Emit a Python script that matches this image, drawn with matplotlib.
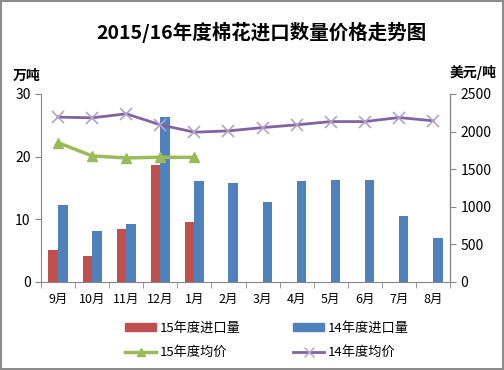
import numpy as np
import matplotlib
matplotlib.use("Agg")
import matplotlib.pyplot as plt
from matplotlib.patches import Patch
from matplotlib.lines import Line2D

plt.rcParams['font.family'] = ['Noto Sans CJK SC', 'DejaVu Sans']

months = ['9月', '10月', '11月', '12月', '1月', '2月', '3月', '4月', '5月', '6月', '7月', '8月']
imp_15 = [5.1, 4.2, 8.4, 18.7, 9.5]
imp_14 = [12.3, 8.2, 9.25, 26.4, 16.05, 15.85, 12.8, 16.05, 16.3, 16.2, 10.6, 7.0]
price_15 = [1853, 1676, 1649, 1659, 1656]
price_14 = [2192, 2183, 2236, 2090, 1992, 2009, 2053, 2090, 2133, 2133, 2187, 2143]

red = '#C0504D'
blue = '#4F81BD'
green = '#9BBB59'
purple = '#8064A2'

fig = plt.figure(figsize=(5.04, 3.70), dpi=100, edgecolor='#8c8c8c', linewidth=1.5)
ax = fig.add_axes([0.0813, 0.238, 0.8117, 0.508])
ax2 = ax.twinx()

x = np.arange(len(months))
w = 0.28
ax.bar(x[:len(imp_15)] - w / 2, imp_15, width=w, color=red)
ax.bar(x + w / 2, imp_14, width=w, color=blue)

ax2.plot(x, price_14, color=purple, lw=2, marker='x', ms=9, mec='#B3A2C7', mew=1.2)
ax2.plot(x[:len(price_15)], price_15, color=green, lw=2.5, marker='^', ms=7)

ax.set_xlim(-0.5, len(months) - 0.5)
ax.set_ylim(0, 30)
ax.set_yticks([0, 10, 20, 30])
ax2.set_ylim(0, 2500)
ax2.set_yticks([0, 500, 1000, 1500, 2000, 2500])

ax.set_xticks(x)
ax.set_xticklabels(months, fontsize=9)
ax.set_xticks(np.arange(-0.5, len(months)), minor=True)
ax.tick_params(axis='x', which='major', length=0, pad=8)
ax.tick_params(axis='x', which='minor', length=4, color='#868686')
ax.tick_params(axis='y', labelsize=10, length=4, color='#868686')
ax2.tick_params(axis='y', labelsize=10, length=4, color='#868686')

for a in (ax, ax2):
    a.spines['top'].set_visible(False)
ax.spines['left'].set_color('#868686')
ax.spines['bottom'].set_color('#868686')
ax2.spines['right'].set_color('#868686')
ax2.spines['left'].set_visible(False)
ax2.spines['bottom'].set_visible(False)

fig.text(0.518, 0.913, '2015/16年度棉花进口数量价格走势图', ha='center', va='center',
         fontsize=14, fontweight='bold')
fig.text(0.025, 0.795, '万吨', ha='left', va='center', fontsize=10, fontweight='bold')
fig.text(0.985, 0.805, '美元/吨', ha='right', va='center', fontsize=10, fontweight='bold')

handles = [Patch(color=red, label='15年度进口量'),
           Line2D([], [], color=green, lw=2.5, marker='^', ms=6, label='15年度均价'),
           Patch(color=blue, label='14年度进口量'),
           Line2D([], [], color=purple, lw=2, marker='x', ms=7, mec='#B3A2C7', label='14年度均价')]
fig.legend(handles=handles, ncol=2, loc='center', bbox_to_anchor=(0.53, 0.08),
           frameon=False, fontsize=9.5, handlelength=2.3, handleheight=0.6,
           columnspacing=4, labelspacing=0.85, handletextpad=0.3)

fig.savefig('out.png', dpi=100)
